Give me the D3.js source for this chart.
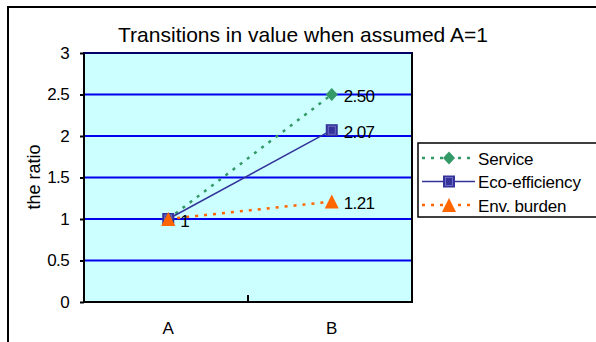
<!DOCTYPE html>
<html><head><meta charset="utf-8">
<script src="https://cdn.jsdelivr.net/npm/d3@7"></script>
<style>body{margin:0;background:#fff}svg{display:block;font-family:"Liberation Sans",Arial,sans-serif}</style>
</head><body>
<svg id="c" width="596" height="342"></svg>
<script>
const categories = ["A", "B"];
const service = [1, 2.50];
const ecoEfficiency = [1, 2.07];
const envBurden = [1, 1.21];
const yTicks = [0, 0.5, 1, 1.5, 2, 2.5, 3];
const yTickLabels = ["0", "0.5", "1", "1.5", "2", "2.5", "3"];
const pointLabels = {service: ["", "2.50"], eco: ["", "2.07"], env: ["1", "1.21"]};
const title = "Transitions in value when assumed A=1";
const yTitle = "the ratio";

const svg = d3.select("#c");
const P = {l: 84, r: 412, t: 53, b: 302};
const FS = 17, LS = "-0.6";

svg.append("rect").attr("x", 8).attr("y", 7).attr("width", 620).attr("height", 360)
  .attr("fill", "#fff").attr("stroke", "#000").attr("stroke-width", 2);

const x = d3.scaleBand().domain(categories).range([P.l + 2.5, P.r + 1.5]);
const y = d3.scaleLinear().domain([0, 3]).range([P.b, P.t]);
const cx = c => x(c) + x.bandwidth() / 2;

svg.append("rect").attr("x", P.l).attr("y", P.t).attr("width", P.r - P.l).attr("height", P.b - P.t)
  .attr("fill", "#ccffff");

// gridlines
svg.append("g").selectAll("line").data(yTicks.filter(v => v > 0 && v < 3)).join("line")
  .attr("x1", P.l).attr("x2", P.r).attr("y1", d => y(d)).attr("y2", d => y(d))
  .attr("stroke", "#0000ee").attr("stroke-width", 2);

// plot border
svg.append("rect").attr("x", P.l).attr("y", P.t).attr("width", P.r - P.l).attr("height", P.b - P.t)
  .attr("fill", "none").attr("stroke", "#000").attr("stroke-width", 2);
svg.append("line").attr("x1", P.l).attr("x2", P.r).attr("y1", P.t).attr("y2", P.t).attr("stroke", "#000066").attr("stroke-width", 2);

// y axis
const yAxis = d3.axisLeft(y).tickValues(yTicks).tickFormat((d, i) => yTickLabels[i]).tickSize(4).tickPadding(11);
const ga = svg.append("g").attr("transform", `translate(${P.l},0)`).call(yAxis);
ga.select(".domain").remove();
ga.selectAll(".tick line").attr("stroke", "#000").attr("stroke-width", 2);
ga.selectAll("text").attr("font-size", FS).attr("font-family", "Liberation Sans, Arial, sans-serif").attr("fill", "#000").attr("letter-spacing", LS);

// x axis
const xAxis = d3.axisBottom(x).tickSize(0).tickPadding(20);
const gx = svg.append("g").attr("transform", `translate(0,${P.b})`).call(xAxis);
gx.select(".domain").remove();
gx.selectAll("text").attr("font-size", FS).attr("font-family", "Liberation Sans, Arial, sans-serif").attr("fill", "#000");
// inner category separator tick
svg.append("g").selectAll("line").data(categories.slice(1)).join("line")
  .attr("x1", d => x(d) - 2).attr("x2", d => x(d) - 2).attr("y1", P.b).attr("y2", P.b - 7)
  .attr("stroke", "#000").attr("stroke-width", 2);

// title
svg.append("text").attr("x", 303).attr("y", 42).attr("text-anchor", "middle")
  .attr("font-size", 21).text(title);
svg.append("text").attr("transform", `translate(40,177) rotate(-90)`)
  .attr("text-anchor", "middle").attr("font-size", 18).text(yTitle);

const line = d3.line().x((d, i) => cx(categories[i])).y(d => y(d));

const series = [
  {key: "service", name: "Service", data: service, color: "#339966", dash: "3,6", width: 2.5, marker: "diamond"},
  {key: "eco", name: "Eco-efficiency", data: ecoEfficiency, color: "#333399", dash: null, width: 1.5, marker: "square"},
  {key: "env", name: "Env. burden", data: envBurden, color: "#ff6600", dash: "3,6", width: 2.5, marker: "triangle"}
];

function marker(g, type, color, px, py) {
  if (type === "diamond") {
    g.append("path").attr("d", `M${px},${py - 6.5}L${px + 6},${py}L${px},${py + 6.5}L${px - 6},${py}Z`).attr("fill", color);
  } else if (type === "square") {
    g.append("rect").attr("x", px - 6).attr("y", py - 6).attr("width", 12).attr("height", 12).attr("fill", color);
    g.append("rect").attr("x", px - 3.5).attr("y", py - 4).attr("width", 7).attr("height", 8).attr("fill", "none").attr("stroke", "#7a7ad0").attr("stroke-width", 0.8);
  } else {
    g.append("path").attr("d", `M${px},${py - 7}L${px + 7},${py + 7}L${px - 7},${py + 7}Z`).attr("fill", color);
  }
}

series.forEach(s => {
  svg.append("path").datum(s.data).attr("d", line).attr("fill", "none")
    .attr("stroke", s.color).attr("stroke-width", s.width).attr("stroke-dasharray", s.dash);
});
series.forEach(s => {
  const g = svg.append("g");
  s.data.forEach((v, i) => marker(g, s.marker, s.color, cx(categories[i]), y(v)));
});
series.forEach(s => {
  s.data.forEach((v, i) => {
    const t = pointLabels[s.key][i];
    if (!t) return;
    svg.append("text").attr("x", cx(categories[i]) + 12).attr("y", y(v) + 7.5)
      .attr("font-size", FS).attr("letter-spacing", LS).text(t);
  });
});

// legend
const L = {x: 418, y: 143, w: 180, h: 74};
svg.append("rect").attr("x", L.x).attr("y", L.y).attr("width", L.w).attr("height", L.h)
  .attr("fill", "#fff").attr("stroke", "#000").attr("stroke-width", 1.5);
series.forEach((s, i) => {
  const yy = L.y + 15 + i * 23.5;
  svg.append("line").attr("x1", 422).attr("x2", 475).attr("y1", yy).attr("y2", yy)
    .attr("stroke", s.color).attr("stroke-width", s.width).attr("stroke-dasharray", s.dash);
  marker(svg.append("g"), s.marker, s.color, 449, yy);
  svg.append("text").attr("x", 478).attr("y", yy + 6.5).attr("font-size", FS).attr("letter-spacing", "-0.2").text(s.name);
});
</script>
</body></html>
